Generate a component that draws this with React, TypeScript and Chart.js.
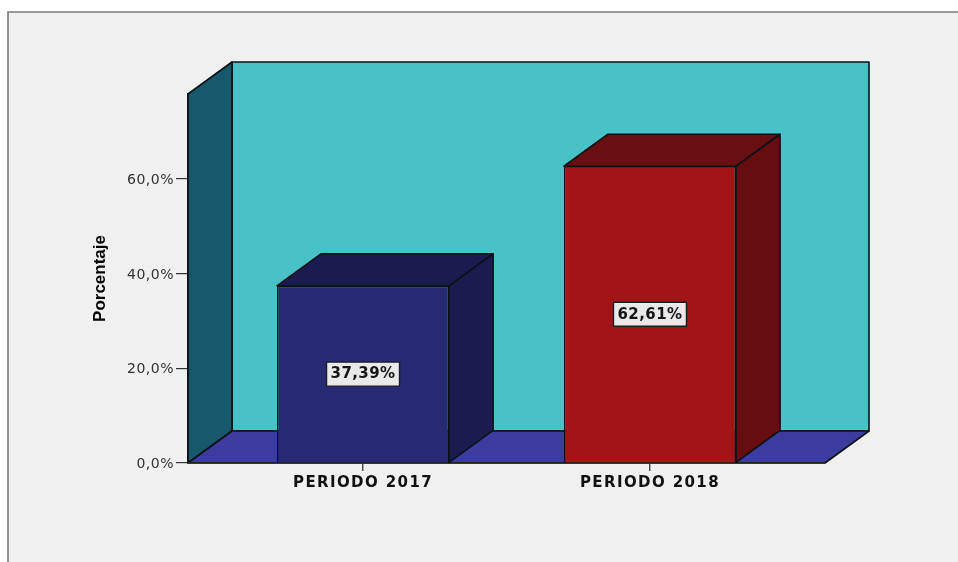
import React, { useEffect, useRef } from "react";
import { Chart, registerables } from "chart.js";

Chart.register(...registerables);

const categories = ["PERIODO 2017", "PERIODO 2018"];
const percentValues = [37.39, 62.61];
const valueLabels = ["37,39%", "62,61%"];
const yTickValues = [0, 20, 40, 60];
const frontColors = ["#272972", "#a11516"];
const sideColors = ["#1a1b4e", "#650d0f"];
const topColors = ["#1a1b4e", "#690f11"];

const DX = 44;
const DY = 32;
const EDGE = "#0b1216";

function poly(ctx: any, pts: number[][], fill: string) {
  ctx.beginPath();
  pts.forEach((p, i) => (i ? ctx.lineTo(p[0], p[1]) : ctx.moveTo(p[0], p[1])));
  ctx.closePath();
  ctx.fillStyle = fill;
  ctx.fill();
  ctx.lineWidth = 1.6;
  ctx.strokeStyle = EDGE;
  ctx.lineJoin = "round";
  ctx.stroke();
}

function spaceLabels(scale: any, spacing: string, shiftY: number) {
  if (scale.__spaced) return;
  scale.__spaced = true;
  const orig = scale.drawLabels;
  scale.drawLabels = function (area: any) {
    const ctx = this.ctx;
    ctx.save();
    ctx.letterSpacing = spacing;
    ctx.translate(0, shiftY);
    orig.call(this, area);
    ctx.restore();
  };
}

const scene3d = {
  id: "scene3d",
  beforeDraw(chart: any) {
    const { ctx, chartArea: a, width, height } = chart;
    ctx.save();
    ctx.fillStyle = "#ffffff";
    ctx.fillRect(0, 0, width, height);
    ctx.fillStyle = "#f0f0f0";
    ctx.fillRect(8, 12, width - 8, height - 12);
    ctx.strokeStyle = "#7a7a7a";
    ctx.lineWidth = 1.6;
    ctx.beginPath();
    ctx.moveTo(8, height);
    ctx.lineTo(8, 12);
    ctx.lineTo(width, 12);
    ctx.stroke();
    poly(ctx, [[a.left + DX, a.top - DY], [a.right + DX, a.top - DY], [a.right + DX, a.bottom - DY], [a.left + DX, a.bottom - DY]], "#48c2c6");
    poly(ctx, [[a.left, a.top], [a.left + DX, a.top - DY], [a.left + DX, a.bottom - DY], [a.left, a.bottom]], "#17596b");
    poly(ctx, [[a.left, a.bottom], [a.left + DX, a.bottom - DY], [a.right + DX, a.bottom - DY], [a.right, a.bottom]], "#3c3ca0");
    ctx.restore();
  },
  afterDatasetsDraw(chart: any) {
    const { ctx } = chart;
    const bars = chart.getDatasetMeta(0).data;
    ctx.save();
    bars.forEach((b: any, i: number) => {
      const l = b.x - b.width / 2;
      const r = b.x + b.width / 2;
      poly(ctx, [[l, b.y], [l + DX, b.y - DY], [r + DX, b.y - DY], [r, b.y]], topColors[i]);
      poly(ctx, [[r, b.y], [r + DX, b.y - DY], [r + DX, b.base - DY], [r, b.base]], sideColors[i]);
      const cy = (b.y + b.base) / 2;
      const w = 73;
      const h = 24;
      ctx.fillStyle = "#e9e9e9";
      ctx.strokeStyle = "#1c1c24";
      ctx.lineWidth = 1.4;
      ctx.fillRect(b.x - w / 2, cy - h / 2, w, h);
      ctx.strokeRect(b.x - w / 2, cy - h / 2, w, h);
      ctx.fillStyle = "#151515";
      ctx.font = "bold 15px 'DejaVu Sans'";
      ctx.letterSpacing = "0.4px";
      ctx.textAlign = "center";
      ctx.textBaseline = "middle";
      ctx.fillText(valueLabels[i], b.x, cy + 0.5);
      ctx.letterSpacing = "0px";
    });
    ctx.restore();
  },
};

export default function App() {
  const ref = useRef<HTMLCanvasElement>(null);
  useEffect(() => {
    const chart = new Chart(ref.current as HTMLCanvasElement, {
      type: "bar",
      data: {
        datasets: [
          {
            data: percentValues.map((v, i) => ({ x: i + 1, y: v })),
            backgroundColor: frontColors,
            borderColor: EDGE,
            borderWidth: 1.5,
            categoryPercentage: 1,
            barPercentage: 0.6,
          },
        ],
      },
      options: {
        responsive: false,
        animation: false,
        layout: { padding: { left: 0, top: 94, right: 133, bottom: 0 } },
        plugins: { legend: { display: false }, tooltip: { enabled: false }, title: { display: false } },
        scales: {
          x: {
            type: "linear",
            min: 0.39,
            max: 2.61,
            offset: false,
            afterBuildTicks: (s: any) => {
              s.ticks = categories.map((_, i) => ({ value: i + 1 }));
            },
            afterFit: (s: any) => {
              s.height = 99;
              spaceLabels(s, "1.4px", -0.5);
            },
            grid: { offset: false, drawOnChartArea: false, drawTicks: true, tickLength: 8, color: "#444444", lineWidth: 1.4 },
            border: { display: true, color: "#222222", width: 1.4 },
            ticks: {
              autoSkip: false,
              maxRotation: 0,
              padding: 4,
              color: "#111111",
              font: { family: "'DejaVu Sans'", size: 15, weight: "bold" },
              callback: (v: any) => categories[Number(v) - 1],
            },
          },
          y: {
            min: 0,
            max: 77.85,
            afterBuildTicks: (s: any) => {
              s.ticks = yTickValues.map((value) => ({ value }));
            },
            afterFit: (s: any) => {
              s.width = 188;
              spaceLabels(s, "0.5px", 1.5);
            },
            grid: { drawOnChartArea: false, drawTicks: true, tickLength: 12, color: "#333333", lineWidth: 1.2 },
            border: { display: true, color: "#111111", width: 1.4 },
            ticks: {
              padding: 2,
              color: "#333333",
              font: { family: "'DejaVu Sans'", size: 14 },
              callback: (v: any) => Number(v).toFixed(1).replace(".", ",") + "%",
            },
            title: {
              display: true,
              text: "Porcentaje",
              color: "#000000",
              font: { family: "'Liberation Sans'", size: 17, weight: "bold" },
              padding: { top: 90, bottom: 0 },
            },
          },
        },
      },
      plugins: [scene3d],
    } as any);
    return () => chart.destroy();
  }, []);
  return (
    <div style={{ position: "fixed", left: 0, top: 0, width: 958, height: 562, background: "#fff" }}>
      <canvas ref={ref} width={958} height={562} style={{ display: "block" }} />
    </div>
  );
}
